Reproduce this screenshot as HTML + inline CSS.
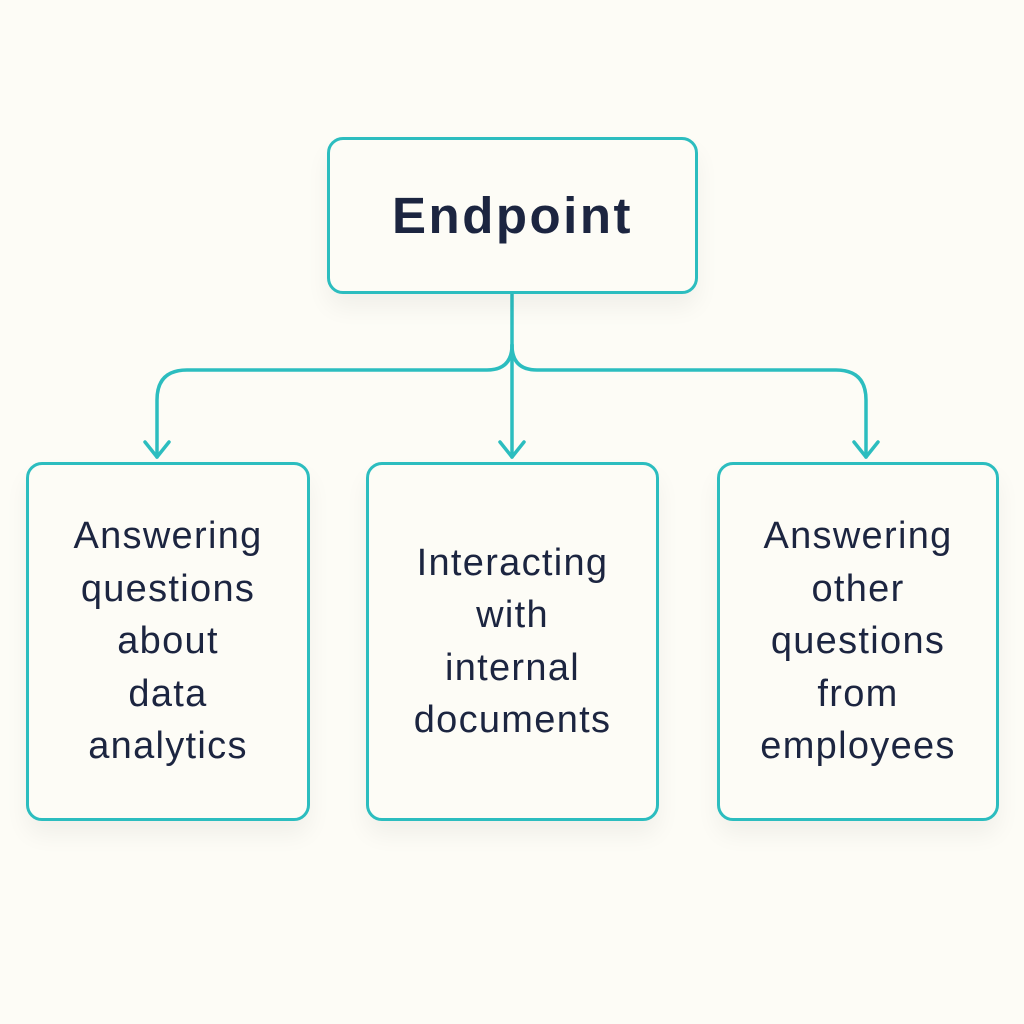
<!DOCTYPE html>
<html><head><style>
body{margin:0;width:1024px;height:1024px;background:#fdfcf6;overflow:hidden;font-family:"Liberation Sans",sans-serif;}
.box{position:absolute;border:3px solid #2cbdbf;border-radius:16px;background:#fdfcf6;box-sizing:border-box;display:flex;align-items:center;justify-content:center;text-align:center;color:#1c2540;box-shadow:0 14px 24px rgba(0,0,0,0.05);}
.s{font-size:38px;line-height:52.5px;letter-spacing:1.3px;}
</style></head><body>
<svg width="1024" height="1024" style="position:absolute;left:0;top:0">
<g fill="none" stroke="#2cbdbf" stroke-width="3.5" stroke-linecap="round" stroke-linejoin="round">
<path d="M512 293 V345 Q512 370 487 370 H187 Q157 370 157 400 V457"/>
<path d="M512 345 Q512 370 537 370 H836 Q866 370 866 400 V457"/>
<path d="M512 345 V457"/>
<path d="M145 442 L157 457 L169 442"/>
<path d="M500 442 L512 457 L524 442"/>
<path d="M854 442 L866 457 L878 442"/>
</g></svg>
<div class="box" style="left:327px;top:137px;width:371px;height:157px;font-size:51px;font-weight:bold;letter-spacing:2.5px;">Endpoint</div>
<div class="box s" style="left:26px;top:462px;width:284px;height:359px;">Answering<br>questions<br>about<br>data<br>analytics</div>
<div class="box s" style="left:366px;top:462px;width:293px;height:359px;">Interacting<br>with<br>internal<br>documents</div>
<div class="box s" style="left:717px;top:462px;width:282px;height:359px;">Answering<br>other<br>questions<br>from<br>employees</div>
</body></html>
